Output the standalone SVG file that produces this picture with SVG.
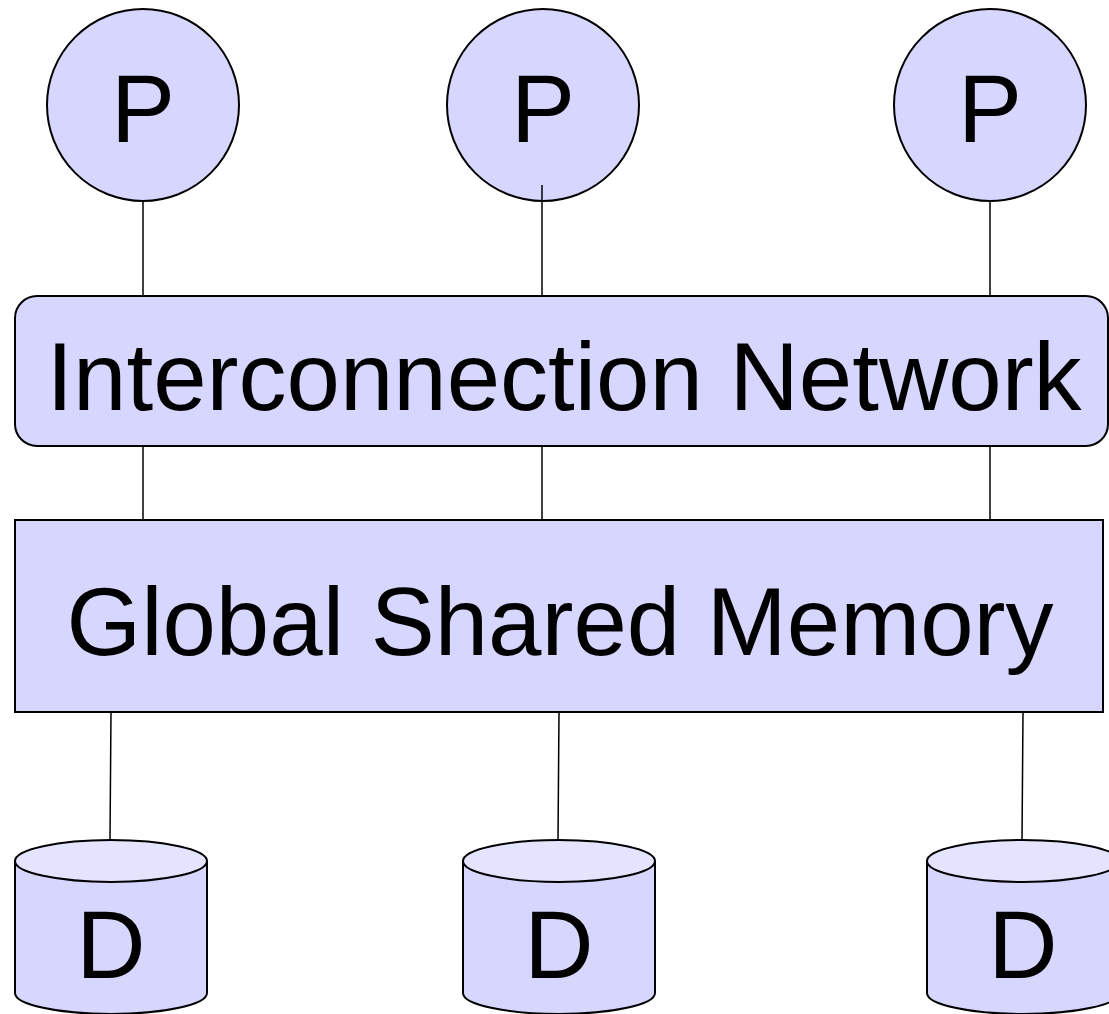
<svg xmlns="http://www.w3.org/2000/svg" width="1109" height="1014" viewBox="0 0 1109 1014">
<style>
.shape{fill:#d6d6ff;stroke:#000;stroke-width:2}
.top{fill:#e4e4ff;stroke:#000;stroke-width:2}
.lbl{font-family:"Liberation Sans",Arial,sans-serif;font-size:96px;fill:#000;text-anchor:middle}
.conn line{stroke:#000;stroke-width:1.5}
</style>
<rect width="1109" height="1014" fill="#fff"/>
<g id="p1"><circle class="shape" cx="143" cy="105" r="96"/><text class="lbl" x="143" y="142">P</text></g>
<g id="p2"><circle class="shape" cx="543" cy="105" r="96"/><text class="lbl" x="543" y="142">P</text></g>
<g id="p3"><circle class="shape" cx="990" cy="105" r="96"/><text class="lbl" x="990" y="142">P</text></g>
<g id="network"><rect class="shape" x="15" y="296" width="1093" height="150" rx="22"/><text class="lbl" x="564" y="410">Interconnection Network</text></g>
<g id="memory"><rect class="shape" x="15" y="520" width="1088" height="192"/><text class="lbl" x="560" y="655">Global Shared Memory</text></g>
<g id="d1">
<path class="shape" d="M15,861 L15,993 A96,21 0 0 0 207,993 L207,861"/>
<ellipse class="top" cx="111" cy="861" rx="96" ry="21"/>
<text class="lbl" x="111" y="978">D</text></g>
<g id="d2">
<path class="shape" d="M463,861 L463,993 A96,21 0 0 0 655,993 L655,861"/>
<ellipse class="top" cx="559" cy="861" rx="96" ry="21"/>
<text class="lbl" x="559" y="978">D</text></g>
<g id="d3">
<path class="shape" d="M927,861 L927,993 A96,21 0 0 0 1119,993 L1119,861"/>
<ellipse class="top" cx="1023" cy="861" rx="96" ry="21"/>
<text class="lbl" x="1023" y="978">D</text></g>
<g id="connectors" class="conn">
<line x1="143" y1="201" x2="143" y2="296"/>
<line x1="542" y1="185" x2="542" y2="296"/>
<line x1="990" y1="201" x2="990" y2="296"/>
<line x1="143" y1="446" x2="143" y2="520"/>
<line x1="542" y1="446" x2="542" y2="520"/>
<line x1="990" y1="446" x2="990" y2="520"/>
<line x1="111" y1="712" x2="110" y2="840"/>
<line x1="559" y1="712" x2="558" y2="840"/>
<line x1="1023" y1="712" x2="1022" y2="840"/>
</g>
</svg>
